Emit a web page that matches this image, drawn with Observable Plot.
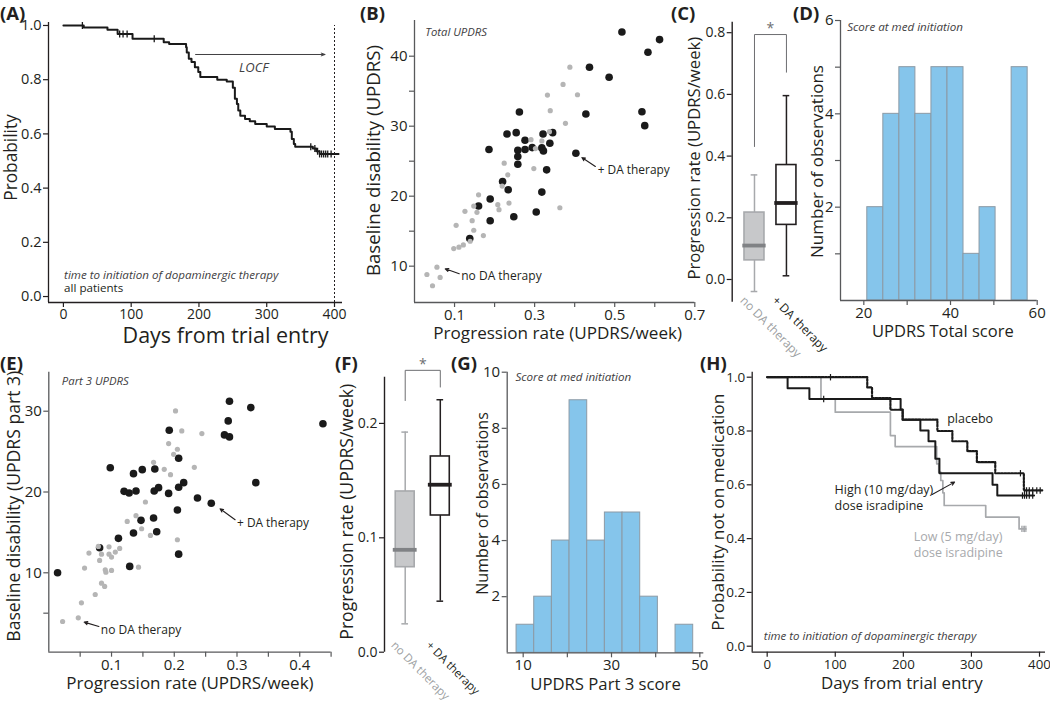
<!DOCTYPE html>
<html><head><meta charset="utf-8">
<script src="https://cdn.jsdelivr.net/npm/d3@7"></script>
<script src="https://cdn.jsdelivr.net/npm/@observablehq/plot@0.6"></script>
<style>
body{margin:0;background:#fff;}
#fig{position:relative;width:1050px;height:704px;overflow:hidden;font-family:"Open Sans",sans-serif;background:#fff;}
#fig svg{position:absolute;left:0;top:0;}
.lbl{position:absolute;font-weight:bold;font-size:18.5px;line-height:1.15;color:#231f20;font-family:"Open Sans",sans-serif;}
</style></head><body><div id="fig"></div>
<script>
// ---------------- DATA ----------------
// (A) Kaplan-Meier, all patients
const aDays = [0,30,65,80,102,148,156,181,182,185,189,194,199,202,227,241,250,253,256,258,261,268,275,283,300,312,335,337,340,342,368,373,378,406];
const aProb = [1.0,0.993,0.984,0.969,0.951,0.938,0.932,0.92,0.90,0.877,0.865,0.846,0.828,0.81,0.80,0.793,0.77,0.73,0.71,0.686,0.667,0.655,0.647,0.637,0.627,0.618,0.608,0.581,0.563,0.553,0.546,0.536,0.526,0.526];
const aCensor = [28,83,88,94,134,365,371,375,378,381,384,387,390,395];
const aCutoffDay = 400;
const aLocfFrom = 195, aLocfTo = 386, aLocfProb = 0.893, aLocfLabelDay = 281, aLocfLabelProb = 0.842;

// (B) Total UPDRS: progression rate vs baseline
const bDaX = [0.518,0.612,0.583,0.437,0.486,0.568,0.575,0.428,0.262,0.231,0.254,0.276,0.321,0.345,0.338,0.258,0.276,0.294,0.318,0.322,0.258,0.258,0.403,0.186,0.330,0.220,0.234,0.318,0.189,0.160,0.304,0.248,0.189,0.138];
const bDaY = [43.46,42.37,40.57,38.43,37.0,32.07,30.08,31.74,32.02,28.89,29.08,27.99,28.89,29.08,27.56,26.56,26.66,26.94,26.90,26.47,25.66,24.57,26.14,26.66,23.76,22.10,20.92,20.58,19.59,18.59,17.74,17.07,16.50,13.94];
const bNoX = [0.388,0.371,0.407,0.332,0.339,0.377,0.337,0.291,0.318,0.302,0.298,0.224,0.233,0.219,0.160,0.208,0.211,0.236,0.363,0.148,0.156,0.126,0.144,0.148,0.172,0.104,0.139,0.122,0.111,0.098,0.031,0.056,0.064,0.045];
const bNoY = [38.43,35.96,34.49,34.44,32.21,30.41,29.22,28.08,27.89,26.80,23.95,24.71,23.05,21.44,20.20,18.78,18.07,19.02,18.35,18.59,17.69,17.83,16.50,15.13,14.37,15.84,13.56,13.04,12.71,12.52,8.81,9.86,8.39,7.20];

// (C) / (F) box plots
const boxCats = ["no DA therapy", "+ DA therapy"];
const cLow = [-0.039, 0.012], cQ1 = [0.062, 0.177], cMed = [0.110, 0.248], cQ3 = [0.217, 0.371], cHigh = [0.339, 0.596];
const cBracket = [0.431, 0.794, 0.672]; // left leg start, top, right leg end
const fLow = [0.0248, 0.0446], fQ1 = [0.0743, 0.1195], fMed = [0.0895, 0.1464], fQ3 = [0.1405, 0.1711], fHigh = [0.1924, 0.2207];
const fBracket = [0.220, 0.2464, 0.2318];

// (D) histogram of UPDRS total score at med initiation
const dEdges = [20.8,24.5,28.2,31.9,35.6,39.3,43.0,46.7,50.4,54.1,57.8];
const dCounts = [2,4,5,4,5,5,1,2,0,5];

// (E) Part 3 UPDRS
const eDaX = [0.014,0.081,0.098,0.111,0.120,0.128,0.135,0.139,0.149,0.129,0.135,0.147,0.169,0.168,0.175,0.167,0.172,0.192,0.191,0.207,0.207,0.215,0.205,0.207,0.237,0.259,0.288,0.322,0.286,0.280,0.288,0.330,0.437];
const eDaY = [10.0,13.1,23.0,14.26,20.08,19.88,22.27,20.12,22.77,10.79,14.92,16.49,22.85,20.12,20.54,16.78,15.08,27.64,19.83,24.17,20.58,21.16,17.77,12.31,19.26,18.60,31.24,30.45,28.80,27.07,26.82,21.16,28.44];
const eNoX = [0.202,0.212,0.244,0.191,0.205,0.199,0.167,0.232,0.184,0.194,0.154,0.139,0.125,0.148,0.162,0.205,0.113,0.096,0.079,0.064,0.084,0.096,0.100,0.106,0.081,0.057,0.090,0.100,0.091,0.143,0.084,0.089,0.074,0.052,0.047,0.022];
const eNoY = [30.04,27.56,27.23,25.99,25.29,24.67,23.68,23.06,22.81,22.15,18.76,17.07,16.36,15.45,14.63,14.09,13.02,13.22,13.26,12.44,12.31,12.31,11.94,12.56,11.53,10.58,10.37,10.29,10.08,10.70,8.72,8.31,7.31,6.28,4.42,3.97];

// (G) histogram of UPDRS part 3 at med initiation
const gEdges = [8.5,12.5,16.5,20.5,24.5,28.5,32.5,36.5,40.5,44.5,48.5];
const gCounts = [1,2,4,9,4,5,5,2,0,1];

// (H) KM by dose group
const hPlaDays = [0,147,154,181,199,250,272,294,308,335,377,404];
const hPlaProb = [1.0,0.962,0.922,0.879,0.842,0.80,0.762,0.725,0.684,0.643,0.579,0.579];
const hPlaCensor = [93,372,378,381,385,390,396,401];
const hHiDays = [0,30,62,196,199,225,237,247,253,331,338,392];
const hHiProb = [1.0,0.959,0.919,0.88,0.842,0.802,0.762,0.697,0.643,0.60,0.56,0.56];
const hHiCensor = [83,375,378,381,385,390];
const hLoDays = [0,79,100,181,188,249,252,255,258,260,321,370,380];
const hLoProb = [1.0,0.919,0.87,0.783,0.742,0.678,0.647,0.616,0.57,0.523,0.48,0.436,0.436];
const hLoCensor = [374,376,378,380];

// ---------------- HELPERS ----------------
const INK = "#231f20", GRAYAX = "#58595b", PTGRAY = "#b5b5b5", BOXGRAY = "#a7a9ac";
const FONT = '"Open Sans", sans-serif';
const fmt1 = d3.format(".1f");
const fmtInt = d3.format("d");
const tickSym = {draw(ctx, size) { const r = Math.sqrt(size / Math.PI); ctx.moveTo(0, -r); ctx.lineTo(0, r); }};
function stepAt(xs, ys, x) { let v = ys[0]; for (let i = 0; i < xs.length; i++) if (xs[i] <= x) v = ys[i]; return v; }
const idx = n => d3.range(n);

function panel(fr, xd, yd, marks) {
  return Plot.plot({
    width: 1050, height: 704,
    marginLeft: fr[0], marginRight: 1050 - fr[1], marginTop: fr[2], marginBottom: 704 - fr[3],
    x: {type: "linear", domain: xd, axis: null},
    y: {type: "linear", domain: yd, axis: null},
    style: {background: "transparent", fontFamily: FONT, color: INK, overflow: "visible"},
    marks
  });
}
function axLines(xd, yd, stroke, {x = true, y = true, yTop = yd[1]} = {}) {
  const m = [];
  if (y) m.push(Plot.ruleX([xd[0]], {y1: yd[0], y2: yTop, stroke, strokeWidth: 1.3}));
  if (x) m.push(Plot.ruleY([yd[0]], {x1: xd[0], x2: xd[1], stroke, strokeWidth: 1.3}));
  return m;
}
function yAx(ticks, labeled, fmt, {fs = 14.5, stroke = INK, size = 5, pad = 2} = {}) {
  return Plot.axisY(ticks, {anchor: "left", tickSize: size, tickPadding: pad, tickFormat: d => labeled.includes(d) ? fmt(d) : "", fontSize: fs, stroke, fill: INK, strokeWidth: 1.2, label: null});
}
function xAx(ticks, labeled, fmt, {fs = 14.5, stroke = INK, size = 5, pad = 2} = {}) {
  return Plot.axisX(ticks, {anchor: "bottom", tickSize: size, tickPadding: pad, tickFormat: d => labeled.includes(d) ? fmt(d) : "", fontSize: fs, stroke, fill: INK, strokeWidth: 1.2, label: null});
}
function xTitle(t, {dx = 0, dy = 23, fs = 17} = {}) {
  return Plot.text([t], {frameAnchor: "bottom", dx, dy, lineAnchor: "top", textAnchor: "middle", fontSize: fs, fill: INK, text: d => d});
}
function yTitle(t, cx, {dy = 0, fs = 17} = {}) {
  return Plot.text([t], {frameAnchor: "left", dx: cx, dy, rotate: -90, textAnchor: "middle", lineAnchor: "middle", fontSize: fs, fill: INK, text: d => d});
}
function note(t, x, y, {fs = 11.5, italic = true, fill = "#414042", anchor = "start"} = {}) {
  return Plot.text([t], {x, y, text: d => d, fontSize: fs, fontStyle: italic ? "italic" : "normal", fill, textAnchor: anchor});
}
function arrowMark(x1, y1, x2, y2) {
  return Plot.arrow([0], {x1, y1, x2, y2, stroke: INK, strokeWidth: 1.1, headLength: 5, headAngle: 50});
}

const fig = document.getElementById("fig");
function add(svg) { fig.appendChild(svg); }

// ---------------- (A) ----------------
{
  const fr = [48, 342, 22, 302], xd = [-22, 411.8], yd = [-0.022, 1.011];
  add(panel(fr, xd, yd, [
    ...axLines(xd, yd, INK),
    yAx([0, 0.2, 0.4, 0.6, 0.8, 1.0], [0, 0.2, 0.4, 0.6, 0.8, 1.0], fmt1, {fs: 14.5}),
    xAx([0, 100, 200, 300, 400], [0, 100, 200, 300, 400], fmtInt, {fs: 14}),
    Plot.ruleX([aCutoffDay], {y1: yd[0], y2: 1.0, stroke: INK, strokeWidth: 1, strokeDasharray: "2,2"}),
    Plot.arrow([0], {x1: aLocfFrom, y1: aLocfProb, x2: aLocfTo, y2: aLocfProb, stroke: "#414042", strokeWidth: 1, headLength: 6, headAngle: 40}),
    note("LOCF", aLocfLabelDay, aLocfLabelProb, {fs: 13, anchor: "middle"}),
    Plot.line(idx(aDays.length), {x: i => aDays[i], y: i => aProb[i], curve: "step-after", stroke: "#1a1a1a", strokeWidth: 2}),
    Plot.dot(aCensor, {x: d => d, y: d => stepAt(aDays, aProb, d), symbol: tickSym, r: 3.5, stroke: "#1a1a1a", strokeWidth: 1.3, fill: "none"}),
    note("time to initiation of dopaminergic therapy", 1, 0.080, {fs: 11.6}),
    note("all patients", 1, 0.031, {fs: 11.6, italic: false, fill: INK}),
    xTitle("Days from trial entry", {dx: 30, dy: 25, fs: 21.5}),
    yTitle("Probability", -37, {dy: -5, fs: 17.3})
  ]));
}

// ---------------- (B) ----------------
{
  const fr = [414, 694.3, 20, 302], xd = [0, 0.7], yd = [4.81, 45.1];
  add(panel(fr, xd, yd, [
    ...axLines(xd, yd, GRAYAX),
    yAx([10, 15, 20, 25, 30, 35, 40], [10, 20, 30, 40], fmtInt, {fs: 15, stroke: GRAYAX}),
    xAx([0.1, 0.2, 0.3, 0.4, 0.5, 0.6, 0.7], [0.1, 0.3, 0.5, 0.7], fmt1, {fs: 15, stroke: GRAYAX}),
    Plot.dot(idx(bDaX.length), {x: i => bDaX[i], y: i => bDaY[i], r: 3.8, fill: "#1a1a1a"}),
    Plot.dot(idx(bNoX.length), {x: i => bNoX[i], y: i => bNoY[i], r: 2.6, fill: PTGRAY}),
    note("Total UPDRS", 0.027, 43.46, {fs: 11.3}),
    note("+ DA therapy", 0.4575, 23.72, {fs: 11.9, italic: false, fill: INK}),
    arrowMark(0.4517, 24.24, 0.418, 25.52),
    note("no DA therapy", 0.1167, 8.53, {fs: 12, italic: false, fill: INK}),
    arrowMark(0.1117, 8.91, 0.0767, 9.62),
    xTitle("Progression rate (UPDRS/week)", {dx: 3, dy: 24, fs: 17.1}),
    yTitle("Baseline disability (UPDRS)", -40, {dy: -1, fs: 18.7})
  ]));
}

// box-plot panel builder
function boxPanel(fr, xd, yd, st, br, opt) {
  const {hw, mw, cw, yTicks, fs, titleX, titleDy, titleFs, yTop, starY, catDy, catFs} = opt;
  const I = [0, 1];
  const col = i => i === 0 ? BOXGRAY : INK;
  return panel(fr, xd, yd, [
    Plot.ruleX([xd[0]], {y1: yd[0], y2: yTop, stroke: INK, strokeWidth: 1.4}),
    yAx(yTicks, yTicks, fmt1, {fs}),
    // significance bracket
    Plot.line([[0, br[0]], [0, br[1]], [1, br[1]], [1, br[2]]], {x: d => d[0], y: d => d[1], stroke: "#6d6e71", strokeWidth: 1}),
    Plot.text(["*"], {x: 0.5, y: starY, text: d => d, fontSize: 14, fill: "#6d6e71"}),
    // whiskers
    Plot.ruleX(I, {x: i => i, y1: i => st.low[i], y2: i => st.q1[i], stroke: i => col(i), strokeWidth: 1.5}),
    Plot.ruleX(I, {x: i => i, y1: i => st.q3[i], y2: i => st.high[i], stroke: i => col(i), strokeWidth: 1.5}),
    Plot.ruleY(I, {y: i => st.low[i], x1: i => i - cw, x2: i => i + cw, stroke: i => col(i), strokeWidth: 1.5}),
    Plot.ruleY(I, {y: i => st.high[i], x1: i => i - cw, x2: i => i + cw, stroke: i => col(i), strokeWidth: 1.5}),
    // boxes
    Plot.rect(I, {x1: i => i - hw, x2: i => i + hw, y1: i => st.q1[i], y2: i => st.q3[i], fill: i => i === 0 ? "#c7c8ca" : "#ffffff", stroke: i => col(i), strokeWidth: 1.6}),
    Plot.ruleY(I, {y: i => st.med[i], x1: i => i - mw, x2: i => i + mw, stroke: i => i === 0 ? "#808285" : INK, strokeWidth: 3.8}),
    // category labels
    Plot.text([boxCats[0]], {x: 0, y: yd[0], text: d => d, rotate: 45, textAnchor: "start", lineAnchor: "top", dx: -9, dy: catDy, fontSize: catFs, fill: "#9d9fa2"}),
    Plot.text([boxCats[1]], {x: 1, y: yd[0], text: d => d, rotate: 45, textAnchor: "start", lineAnchor: "top", dx: -9, dy: catDy, fontSize: catFs, fill: INK}),
    yTitle("Progression rate (UPDRS/week)", titleX, {dy: titleDy, fs: titleFs})
  ]);
}

// ---------------- (C) ----------------
add(boxPanel([731.7, 808, 21.7, 301.7], [-0.697, 1.69], [-0.0736, 0.834],
  {low: cLow, q1: cQ1, med: cMed, q3: cQ3, high: cHigh}, cBracket,
  {hw: 0.3125, mw: 0.365, cw: 0.104, yTicks: [0, 0.2, 0.4, 0.6, 0.8], fs: 14, titleX: -38, titleDy: -4, titleFs: 16.7, yTop: 0.834, starY: 0.815, catDy: -7, catFs: 12}));

// ---------------- (D) ----------------
{
  const fr = [840, 1036.7, 20, 300], xd = [14.62, 60], yd = [0, 6];
  add(panel(fr, xd, yd, [
    Plot.rect(idx(dCounts.length), {filter: i => dCounts[i] > 0, x1: i => dEdges[i], x2: i => dEdges[i + 1], y1: 0, y2: i => dCounts[i], fill: "#85c5eb", stroke: "#8c9aa5", strokeWidth: 1}),
    ...axLines(xd, yd, GRAYAX),
    yAx([1, 2, 3, 4, 5, 6], [2, 4, 6], fmtInt, {fs: 15, stroke: GRAYAX}),
    xAx([20, 30, 40, 50, 60], [20, 40, 60], fmtInt, {fs: 15, stroke: GRAYAX}),
    note("Score at med initiation", 16.17, 5.856, {fs: 11.6}),
    xTitle("UPDRS Total score", {dx: 4, dy: 25, fs: 16.5}),
    yTitle("Number of observations", -23, {dy: 1, fs: 17})
  ]));
}

// ---------------- (E) ----------------
{
  const fr = [48.3, 330.6, 371.7, 651.7], xd = [0, 0.45], yd = [0.17, 34.83];
  add(panel(fr, xd, yd, [
    ...axLines(xd, yd, GRAYAX),
    yAx([5, 10, 20, 30], [10, 20, 30], fmtInt, {fs: 15, stroke: GRAYAX}),
    xAx([0.05, 0.1, 0.15, 0.2, 0.25, 0.3, 0.35, 0.4, 0.45], [0.1, 0.2, 0.3, 0.4], fmt1, {fs: 15, stroke: GRAYAX}),
    Plot.dot(idx(eDaX.length), {x: i => eDaX[i], y: i => eDaY[i], r: 3.8, fill: "#1a1a1a"}),
    Plot.dot(idx(eNoX.length), {x: i => eNoX[i], y: i => eNoY[i], r: 2.6, fill: PTGRAY}),
    note("Part 3 UPDRS", 0.0208, 33.71, {fs: 11.3}),
    note("+ DA therapy", 0.300, 16.14, {fs: 11.9, italic: false, fill: INK}),
    arrowMark(0.297, 16.56, 0.273, 17.92),
    note("no DA therapy", 0.083, 2.95, {fs: 12, italic: false, fill: INK}),
    arrowMark(0.0798, 3.35, 0.0564, 3.89),
    xTitle("Progression rate (UPDRS/week)", {dx: 0, dy: 25, fs: 17}),
    yTitle("Baseline disability (UPDRS part 3)", -34, {dy: -6, fs: 17.6})
  ]));
}

// ---------------- (F) ----------------
add(boxPanel([384, 465, 376.7, 651.7], [-0.59, 1.718], [0, 0.2404],
  {low: fLow, q1: fQ1, med: fMed, q3: fQ3, high: fHigh}, fBracket,
  {hw: 0.27, mw: 0.34, cw: 0.095, yTicks: [0, 0.1, 0.2], fs: 14, titleX: -37, titleDy: -3, titleFs: 17.6, yTop: 0.2404, starY: 0.2515, catDy: -12, catFs: 11.5}));

// ---------------- (G) ----------------
{
  const fr = [506.7, 703.3, 371.7, 652.3], xd = [6.38, 50.9], yd = [0, 10];
  add(panel(fr, xd, yd, [
    Plot.rect(idx(gCounts.length), {filter: i => gCounts[i] > 0, x1: i => gEdges[i], x2: i => gEdges[i + 1], y1: 0, y2: i => gCounts[i], fill: "#85c5eb", stroke: "#8c9aa5", strokeWidth: 1}),
    ...axLines(xd, yd, GRAYAX),
    yAx([2, 4, 6, 8, 10], [2, 4, 6, 8, 10], fmtInt, {fs: 15, stroke: GRAYAX}),
    xAx([10, 20, 30, 40, 50], [10, 30, 50], fmtInt, {fs: 15, stroke: GRAYAX}),
    note("Score at med initiation", 8.26, 9.82, {fs: 11.6}),
    xTitle("UPDRS Part 3 score", {dx: 0, dy: 25, fs: 16.7}),
    yTitle("Number of observations", -24, {dy: -9, fs: 16.1})
  ]));
}

// ---------------- (H) ----------------
{
  const fr = [751.7, 1045, 371.7, 651.7], xd = [-22, 408.8], yd = [-0.0223, 1.0186];
  const grp = (days, prob, stroke, dash, sw) => Plot.line(idx(days.length), {x: i => days[i], y: i => prob[i], curve: "step-after", stroke, strokeWidth: sw, strokeDasharray: dash});
  const cens = (days, sd, sp, stroke) => Plot.dot(days, {x: d => d, y: d => stepAt(sd, sp, d), symbol: tickSym, r: 3.2, stroke, strokeWidth: 1.2, fill: "none"});
  add(panel(fr, xd, yd, [
    ...axLines(xd, yd, INK),
    yAx([0, 0.2, 0.4, 0.6, 0.8, 1.0], [0, 0.2, 0.4, 0.6, 0.8, 1.0], fmt1, {fs: 13.5}),
    xAx([0, 100, 200, 300, 400], [0, 100, 200, 300, 400], fmtInt, {fs: 13.3}),
    grp(hLoDays, hLoProb, "#a7a9ac", null, 1.7),
    cens(hLoCensor, hLoDays, hLoProb, "#a7a9ac"),
    grp(hHiDays, hHiProb, "#1a1a1a", null, 2),
    cens(hHiCensor, hHiDays, hHiProb, "#1a1a1a"),
    grp(hPlaDays, hPlaProb, "#1a1a1a", "2,1.4", 2.2),
    cens(hPlaCensor, hPlaDays, hPlaProb, "#1a1a1a"),
    note("placebo", 264.4, 0.843, {fs: 12.5, italic: false, fill: INK}),
    note("High (10 mg/day)", 98.9, 0.581, {fs: 12.5, italic: false, fill: INK}),
    note("dose isradipine", 98.9, 0.523, {fs: 12.5, italic: false, fill: INK}),
    arrowMark(242.3, 0.564, 275.2, 0.610),
    note("Low (5 mg/day)", 215.4, 0.405, {fs: 12.5, italic: false, fill: "#a7a9ac"}),
    note("dose isradipine", 215.4, 0.347, {fs: 12.5, italic: false, fill: "#a7a9ac"}),
    note("time to initiation of dopaminergic therapy", -4.9, 0.037, {fs: 11.5}),
    xTitle("Days from trial entry", {dx: 3, dy: 25, fs: 16.9}),
    yTitle("Probability not on medication", -34, {dy: 0, fs: 17.2})
  ]));
}

// panel letters
const letters = [["(A)", 0, 2], ["(B)", 360, 2], ["(C)", 671, 2], ["(D)", 793, 2], ["(E)", 0, 352], ["(F)", 335, 352], ["(G)", 451, 352], ["(H)", 700, 352]];
for (const [t, x, y] of letters) {
  const d = document.createElement("div");
  d.className = "lbl"; d.textContent = t;
  d.style.left = x + "px"; d.style.top = y + "px";
  fig.appendChild(d);
}
</script></body></html>
